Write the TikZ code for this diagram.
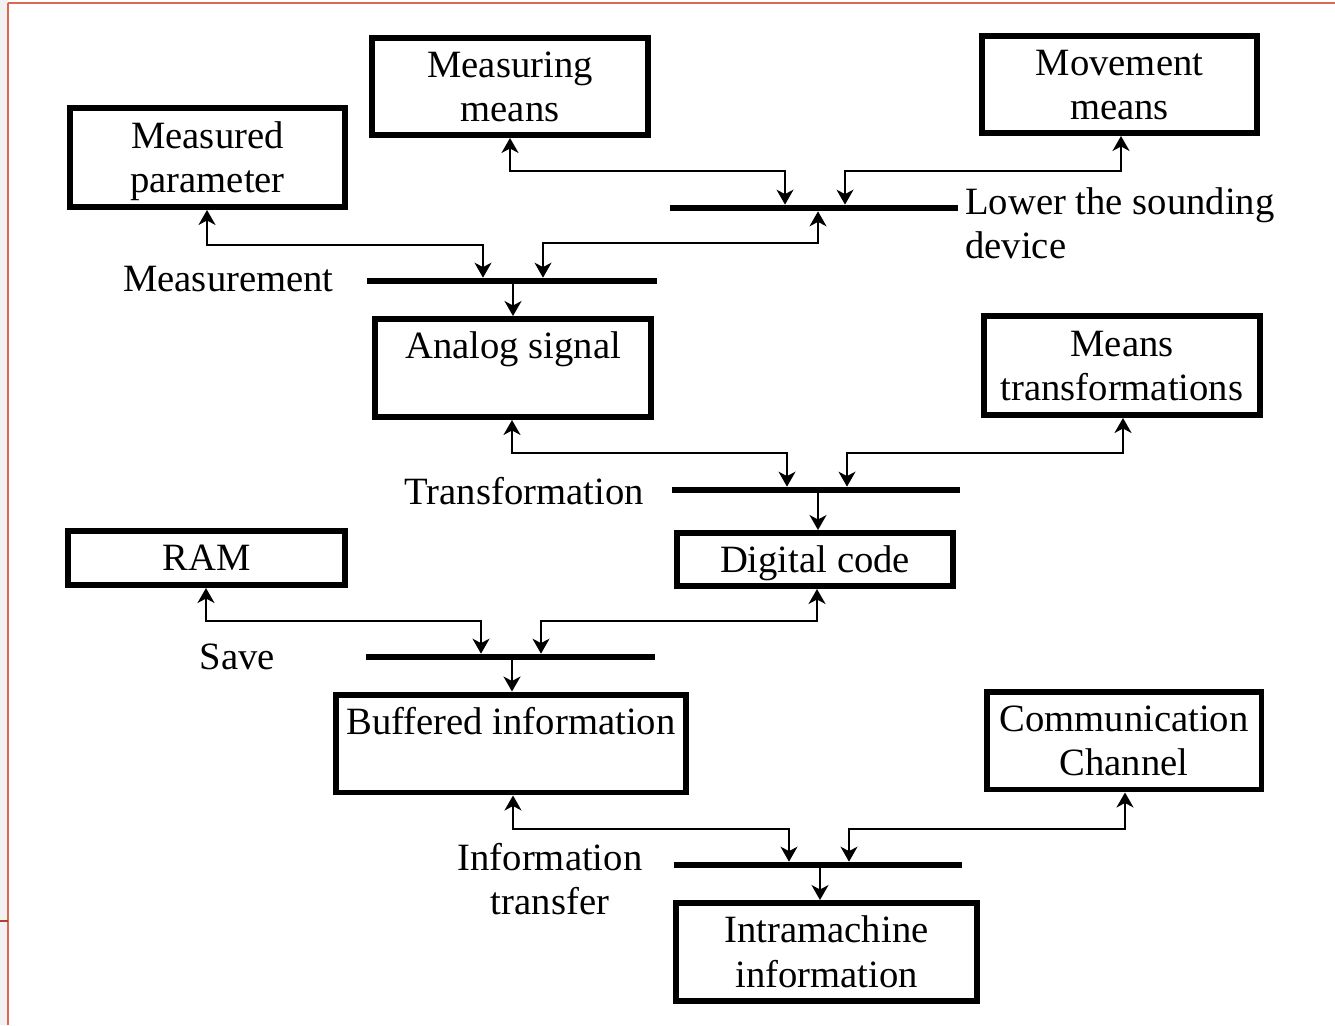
\documentclass[tikz,border=0pt]{standalone}
\usepackage{fontspec}
\setmainfont{Liberation Serif}
\usetikzlibrary{arrows.meta}
\newcommand\diafont{\fontsize{22pt}{25.5pt}\selectfont}
\newcommand\dstrut{\rule[-5.4pt]{0pt}{25.5pt}}
\definecolor{frameorange}{RGB}{221,104,82}
\definecolor{framedark}{RGB}{176,64,48}
\tikzset{
  box/.style={draw, line width=3.4pt, inner sep=0pt, align=center, font=\diafont},
  bar/.style={fill=black, inner sep=0pt, minimum height=0.12cm},
  lbl/.style={inner sep=0pt, font=\diafont},
  tip/.tip={Stealth[length=0.3cm,width=0.34cm,inset=0.09cm]},
  conn/.style={line width=1.13pt, tip-tip},
  conn1/.style={line width=1.13pt, -tip}
}
\begin{document}
\begin{tikzpicture}[x=0.02cm,y=-0.02cm]
\useasboundingbox (0,0) rectangle (1335,1025);
% page frame
\fill[black!5] (0,0) rectangle (8,1025);
\draw[frameorange, line width=0.9pt] (8,3) -- (1335,3);
\draw[frameorange, line width=0.9pt] (8,3) -- (8,1025);
\draw[framedark, line width=1.2pt] (0,921) -- (8,921);

% boxes
\node[box, minimum width=5.5cm, minimum height=1.98cm] (mp) at (207.5,157.5) {\dstrut Measured\\\dstrut parameter};
\node[box, minimum width=5.52cm, minimum height=1.94cm] (mm) at (510,86.5) {\dstrut Measuring\\\dstrut means};
\node[box, minimum width=5.5cm, minimum height=1.94cm] (mv) at (1119.5,84.5) {\dstrut Movement\\\dstrut means};
\node[box, minimum width=5.52cm, minimum height=1.96cm] (as) at (513,368) {\dstrut Analog signal\\\dstrut};
\node[box, minimum width=5.52cm, minimum height=1.98cm] (mt) at (1122,365.5) {\dstrut Means\\\dstrut transformations};
\node[box, minimum width=5.54cm, minimum height=1.08cm] (ram) at (206.5,558) {\dstrut RAM};
\node[box, minimum width=5.52cm, minimum height=1.06cm] (dc) at (815,559.5) {\dstrut Digital code};
\node[box, minimum width=7.0cm, minimum height=1.96cm] (bi) at (511,743.5) {\dstrut Buffered information\\\dstrut};
\node[box, minimum width=5.5cm, minimum height=1.96cm] (cc) at (1124,740.5) {\dstrut Communication\\\dstrut Channel};
\node[box, minimum width=6.02cm, minimum height=1.96cm] (im) at (826.5,952) {\dstrut Intramachine\\\dstrut information};

% bars
\node[bar, minimum width=5.76cm] (b1) at (814,208) {};
\node[bar, minimum width=5.8cm] (b2) at (512,281) {};
\node[bar, minimum width=5.76cm] (b3) at (816,490) {};
\node[bar, minimum width=5.78cm] (b4) at (510.5,657) {};
\node[bar, minimum width=5.76cm] (b5) at (818,865) {};

% labels
\node[lbl, anchor=west, align=left] (l1) at (965,223.5) {\dstrut Lower the sounding\\\dstrut device};
\node[lbl, anchor=east] (l2) at (334,279) {\dstrut Measurement};
\node[lbl, anchor=east] (l3) at (644,492) {\dstrut Transformation};
\node[lbl, anchor=east] (l4) at (275,657) {\dstrut Save};
\node[lbl, align=center] (l5) at (550,879.5) {\dstrut Information\\\dstrut transfer};

% connectors: stage 1
\draw[conn] (mm.south) -- (510,171) -- (785,171) -- (785,0 |- b1.north);
\draw[conn] (1121,0 |- mv.south) -- (1121,171) -- (845,171) -- (845,0 |- b1.north);
% stage 2
\draw[conn] (207,0 |- mp.south) -- (207,245) -- (483,245) -- (483,0 |- b2.north);
\draw[conn] (818,0 |- b1.south) -- (818,243) -- (543,243) -- (543,0 |- b2.north);
\draw[conn1] (513,0 |- b2.south) -- (as.north);
% stage 3
\draw[conn] (512,0 |- as.south) -- (512,453) -- (787,453) -- (787,0 |- b3.north);
\draw[conn] (1123,0 |- mt.south) -- (1123,453) -- (847,453) -- (847,0 |- b3.north);
\draw[conn1] (818,0 |- b3.south) -- (818,0 |- dc.north);
% stage 4
\draw[conn] (206,0 |- ram.south) -- (206,621) -- (481,621) -- (481,0 |- b4.north);
\draw[conn] (817,0 |- dc.south) -- (817,621) -- (541,621) -- (541,0 |- b4.north);
\draw[conn1] (512,0 |- b4.south) -- (512,0 |- bi.north);
% stage 5
\draw[conn] (513,0 |- bi.south) -- (513,829) -- (789,829) -- (789,0 |- b5.north);
\draw[conn] (1125,0 |- cc.south) -- (1125,829) -- (849,829) -- (849,0 |- b5.north);
\draw[conn1] (820,0 |- b5.south) -- (820,0 |- im.north);
\end{tikzpicture}
\end{document}
